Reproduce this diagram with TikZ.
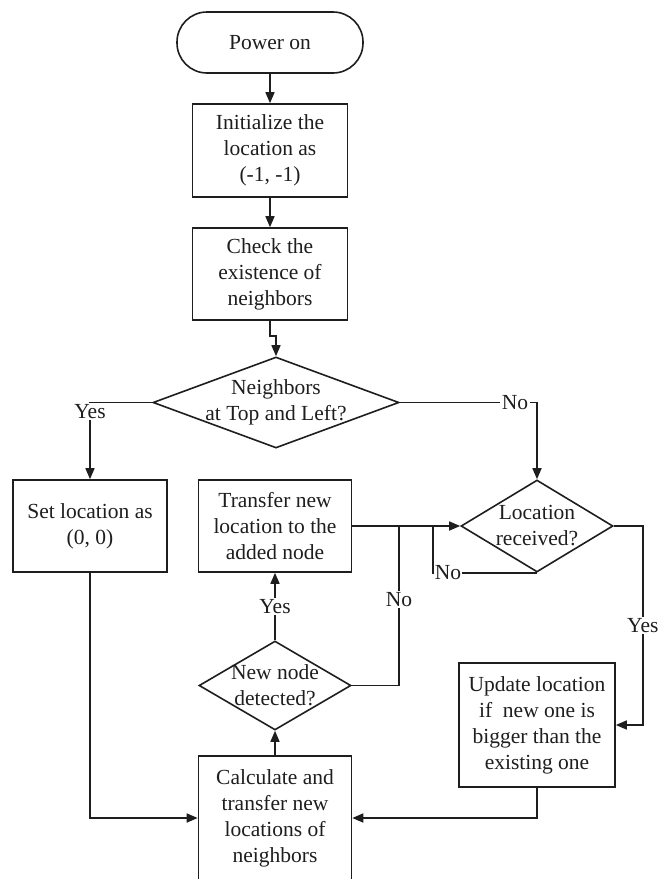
\documentclass[tikz,border=0pt]{standalone}
\usepackage{fontspec}
\setmainfont{Liberation Serif}
\usetikzlibrary{shapes.geometric,arrows.meta,calc}
\definecolor{ink}{RGB}{30,30,30}
\begin{document}
\begin{tikzpicture}[x=1pt,y=1pt,
  every node/.style={font=\fontsize{21.5}{26}\selectfont, text=ink},
  line/.style={draw=ink, line width=1.6pt},
  arr/.style={line, -{Triangle[length=11pt,width=9pt]}},
  box/.style={draw=ink, line width=1.6pt, rectangle, align=center, inner sep=0pt},
  term/.style={box, rounded corners=30pt},
  dia/.style={draw=ink, line width=1.6pt, diamond, inner sep=0pt},
  lbl/.style={fill=white, inner sep=1.5pt},
]
\useasboundingbox (0,0) rectangle (669,-879);

\node[term, minimum width=186pt, minimum height=61pt] (power) at (270,-42.5) {Power on};
\node[box, minimum width=155pt, minimum height=93pt] (init) at (270,-150.5) {Initialize the\\location as\\(-1, -1)};
\node[box, minimum width=155pt, minimum height=92pt] (check) at (270,-274) {Check the\\existence of\\neighbors};
\node[dia, minimum width=246pt, minimum height=91pt] (d1) at (276,-402.5) {};
\node[align=center] (d1t) at (d1) {Neighbors\\at Top and Left?};
\node[box, minimum width=154pt, minimum height=92pt] (set) at (90,-526) {Set location as\\(0, 0)};
\node[box, minimum width=153pt, minimum height=92pt] (transfer) at (275,-526) {Transfer new\\location to the\\added node};
\node[dia, minimum width=152pt, minimum height=92pt] (d2) at (537,-526) {};
\node[align=center] (d2t) at (d2) {Location\\received?};
\node[dia, minimum width=152pt, minimum height=89pt] (d3) at (275,-685.5) {};
\node[align=center] (d3t) at (d3) {New node\\detected?};
\node[box, minimum width=156pt, minimum height=124pt] (update) at (537,-725) {Update location\\if\ \ new one is\\bigger than the\\existing one};
\node[box, minimum width=153pt, minimum height=124pt] (calc) at (275,-818) {Calculate and\\transfer new\\locations of\\neighbors};

\coordinate (j1) at (433,-526);
\coordinate (j2) at (399,-526);

\draw[arr] (power.south) -- (init.north);
\draw[arr] (init.south) -- (check.north);
\draw[arr] (check.south) -- ++(0,-15) -| (d1.north);
\draw[arr] (d1.west) -| node[lbl, pos=0.5, yshift=-9pt] {Yes} (set.north);
\draw[arr] (d1.east) -| node[lbl, pos=0.42] {No} (d2.north);
\draw[arr] (transfer.east) -- (d2.west);
\draw[line] (d2.south) -| node[lbl, pos=0.5, anchor=west, inner sep=1pt] {No} (j1);
\draw[line] (d3.east) -| node[lbl, pos=0.77] {No} (j2);
\draw[arr] (d3.north) -- node[lbl] {Yes} (transfer.south);
\draw[arr] (calc.north) -- (d3.south);
\draw[arr] (set.south) |- (calc.west);
\draw[arr] (d2.east) -- ++(29,0) |- node[lbl, pos=0.25] {Yes} (update.east);
\draw[arr] (update.south) |- (calc.east);
\end{tikzpicture}
\end{document}
